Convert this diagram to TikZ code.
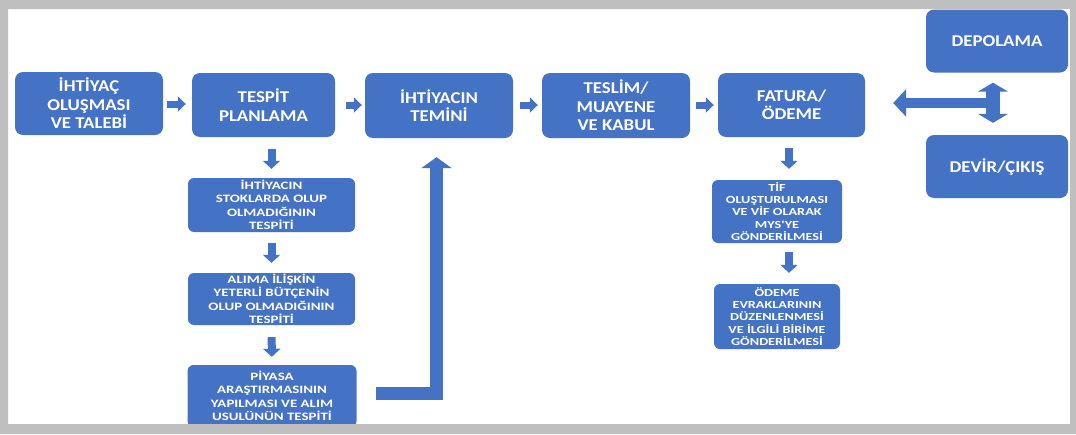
\documentclass[tikz,border=0pt]{standalone}
\usepackage{fontspec}
\setmainfont{Carlito}
\newfontfamily\topf{Carlito}[FakeStretch=1.14]
\newfontfamily\smf{Carlito}[FakeStretch=1.32]
\usetikzlibrary{arrows.meta}
\definecolor{bl}{RGB}{68,114,196}
\definecolor{frame}{RGB}{191,191,191}
\begin{document}
\begin{tikzpicture}[x=1pt,y=-1pt,
  box/.style={fill=bl, rounded corners=8pt, text=white, align=center, inner sep=0pt,
    font=\topf\bfseries\fontsize{16.5}{18.5}\selectfont},
  sbox/.style={box, rounded corners=6pt, font=\smf\bfseries\fontsize{11.3}{13.5}\selectfont},
  tbox/.style={box, rounded corners=6pt, font=\smf\bfseries\fontsize{10.8}{12.2}\selectfont},
  rarr/.style={draw=bl, line width=7pt, -{Triangle[length=8pt,width=15pt]}},
  darr/.style={draw=bl, line width=8pt, -{Triangle[length=8pt,width=17pt]}},
  big/.style={draw=bl, line join=miter}
]
\useasboundingbox (0,0) rectangle (1076,434);
\fill[white] (0,0) rectangle (1076,434);

% top row
\node[box, minimum width=148pt, minimum height=63pt] (n1) at (89,103.5) {İHTİYAÇ\\OLUŞMASI\\VE TALEBİ};
\node[box, minimum width=143pt, minimum height=64pt] (n2) at (263.5,105) {TESPİT\\PLANLAMA};
\node[box, minimum width=148pt, minimum height=65pt] (n3) at (439,105.5) {İHTİYACIN\\TEMİNİ};
\node[box, minimum width=148pt, minimum height=65pt] (n4) at (616,105.5) {TESLİM/\\MUAYENE\\VE KABUL};
\node[box, minimum width=147pt, minimum height=64pt] (n5) at (791.5,105) {FATURA/\\ÖDEME};
\node[box, minimum width=142pt, minimum height=63pt] (dep) at (997,41) {DEPOLAMA};
\node[box, minimum width=142pt, minimum height=63pt] (dev) at (997,166.5) {DEVİR/ÇIKIŞ};

% left column
\node[sbox, minimum width=167pt, minimum height=54pt] (a) at (271.5,205) {İHTİYACIN\\STOKLARDA OLUP\\OLMADIĞININ\\TESPİTİ};
\node[sbox, minimum width=167pt, minimum height=52pt] (b) at (271.5,299) {ALIMA İLİŞKİN\\YETERLİ BÜTÇENİN\\OLUP OLMADIĞININ\\TESPİTİ};
\node[sbox, minimum width=169pt, minimum height=62pt] (c) at (272,396) {PİYASA\\ARAŞTIRMASININ\\YAPILMASI VE ALIM\\USULÜNÜN TESPİTİ};

% right column
\node[tbox, minimum width=130pt, minimum height=63pt] (t) at (777,211.5) {TİF\\OLUŞTURULMASI\\VE VİF OLARAK\\MYS'YE\\GÖNDERİLMESİ};
\node[tbox, minimum width=126pt, minimum height=65pt] (o) at (777,316.5) {ÖDEME\\EVRAKLARININ\\DÜZENLENMESİ\\VE İLGİLİ BİRİME\\GÖNDERİLMESİ};

% horizontal small arrows
\draw[rarr, shorten <=4pt, shorten >=6pt] (n1.east |- 0,104) -- (n2.west |- 0,104);
\draw[rarr, shorten <=11pt, shorten >=3pt] (n2.east |- 0,105) -- (n3.west |- 0,105);
\draw[rarr, shorten <=7pt, shorten >=4pt] (n3.east |- 0,105) -- (n4.west |- 0,105);
\draw[rarr, shorten <=6pt, shorten >=4pt] (n4.east |- 0,105) -- (n5.west |- 0,105);

% down arrows
\draw[darr, shorten <=12pt, shorten >=9pt] (a.north |- n2.south) -- (a.north);
\draw[darr, shorten <=11pt, shorten >=10pt] (a.south) -- (b.north);
\draw[darr, shorten <=12pt, shorten >=8pt] (b.south) -- (c.north);
\draw[darr, shorten <=11pt, shorten >=11pt] ([xshift=-2.5pt]n5.south) -- ([xshift=-2.5pt]n5.south |- t.north);
\draw[darr, shorten <=9pt, shorten >=11pt] ([xshift=12pt]t.south) -- ([xshift=12pt]t.south |- o.north);

% L arrow
\draw[big, line width=13pt, shorten <=19pt, -{Triangle[length=11pt,width=30pt]}]
  ([yshift=2.5pt]c.east) -| ([xshift=-2.5pt,yshift=-19pt]n3.south);

% double arrows
\coordinate (hj) at (1000,103);
\draw[big, line width=10pt, shorten >=28pt, -{Triangle[length=13pt,width=27pt]}] (hj) -- (hj -| n5.east);
\draw[big, line width=14pt, shorten <=10pt, shorten >=12pt,
  {Triangle[length=9pt,width=30pt]}-{Triangle[length=9pt,width=30pt]}]
  ([xshift=-4pt]dep.south) -- ([xshift=-4pt]dev.north);

% frame
\fill[frame, even odd rule] (0,0) rectangle (1076,434) (8,9) rectangle (1070,424);
\end{tikzpicture}
\end{document}
